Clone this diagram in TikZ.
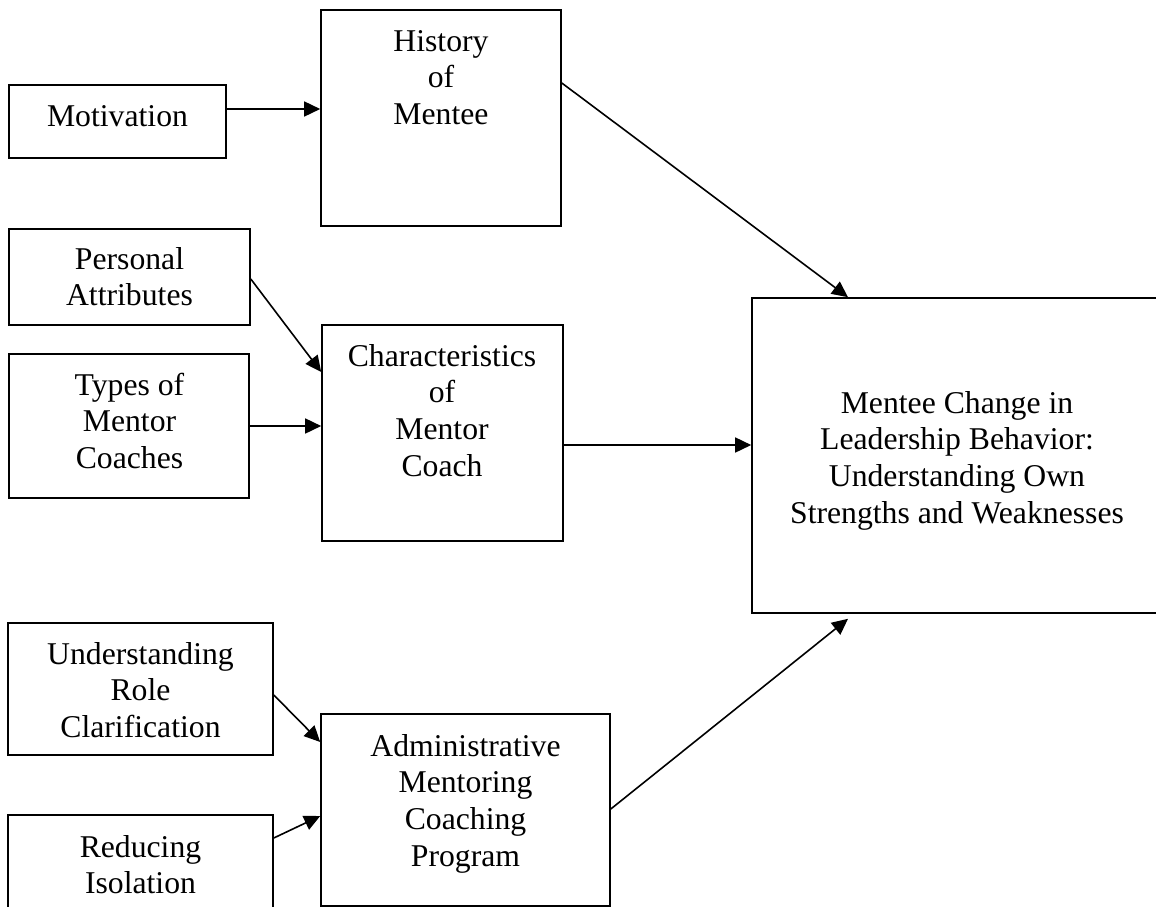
\documentclass[tikz,border=0pt]{standalone}
\usepackage{fontspec}
\setmainfont{Liberation Serif}
\usetikzlibrary{arrows.meta}
\tikzset{
  box/.style={draw=black, line width=1.6pt, rectangle, inner sep=0pt},
  txt/.style={anchor=north, inner sep=0pt, align=center,
    font=\fontsize{31.7pt}{36.7pt}\selectfont},
  arr/.style={line width=1.6pt, -{Triangle[length=16pt,width=15pt]}}
}
\begin{document}
\begin{tikzpicture}[x=1pt,y=-1pt]
\useasboundingbox (0,0) rectangle (1156,907);
% boxes
\node[box, minimum width=217pt, minimum height=73pt]  (mot)    at (117.5,121.5) {};
\node[box, minimum width=240pt, minimum height=216pt] (hist)   at (441,118) {};
\node[box, minimum width=241pt, minimum height=96pt]  (pers)   at (129.5,277) {};
\node[box, minimum width=240pt, minimum height=144pt] (types)  at (129,426) {};
\node[box, minimum width=241pt, minimum height=216pt] (chars)  at (442.5,433) {};
\node[box, minimum width=410pt, minimum height=315pt] (mentee) at (957,455.5) {};
\node[box, minimum width=265pt, minimum height=132pt] (under)  at (140.5,689) {};
\node[box, minimum width=265pt, minimum height=97pt]  (reduc)  at (140.5,863.5) {};
\node[box, minimum width=289pt, minimum height=192pt] (admin)  at (465.5,810) {};
% texts
\node[txt] (tmot)    at (117.5,100.3) {\strut Motivation};
\node[txt] (thist)   at (441,25.3)    {\strut History\\\strut of\\\strut Mentee};
\node[txt] (tpers)   at (129.5,243.3) {\strut Personal\\\strut Attributes};
\node[txt] (ttypes)  at (129.5,369.3) {\strut Types of\\\strut Mentor\\\strut Coaches};
\node[txt] (tchars)  at (442,340.3)   {\strut Characteristics\\\strut of\\\strut Mentor\\\strut Coach};
\node[txt] (tunder)  at (140.5,638.3) {\strut Understanding\\\strut Role\\\strut Clarification};
\node[txt] (treduc)  at (140.5,831.3) {\strut Reducing\\\strut Isolation};
\node[txt] (tadmin)  at (465.5,730.3) {\strut Administrative\\\strut Mentoring\\\strut Coaching\\\strut Program};
\node[txt] (tmentee) at (957,387.3)   {\strut Mentee Change in\\\strut Leadership Behavior:\\\strut Understanding Own\\\strut Strengths and Weaknesses};
% connector end points
\coordinate (s1) at ([yshift=12.5pt]mot.east);
\coordinate (s2) at ([yshift=35pt]hist.east);
\coordinate (e2) at ([xshift=-109pt]mentee.north);
\coordinate (s3) at ([yshift=-2pt]pers.east);
\coordinate (e3) at ([yshift=61pt]chars.west);
\coordinate (s5) at ([yshift=-12pt]chars.east);
\coordinate (s6) at ([yshift=-6pt]under.east);
\coordinate (e6) at ([yshift=68pt]admin.west);
\coordinate (s7) at ([yshift=25.5pt]reduc.east);
\coordinate (e7) at ([yshift=-6pt]admin.west);
\coordinate (s8) at ([yshift=1pt]admin.east);
\coordinate (e8) at ([xshift=-109pt,yshift=-5pt]mentee.south);
% connectors
\draw[arr] (s1) -- (s1 -| hist.west);
\draw[arr] (s2) -- (e2);
\draw[arr] (s3) -- (e3);
\draw[arr] (types.east) -- (types.east -| chars.west);
\draw[arr] (s5) -- (s5 -| mentee.west);
\draw[arr] (s6) -- (e6);
\draw[arr] (s7) -- (e7);
\draw[arr] (s8) -- (e8);
\end{tikzpicture}
\end{document}
